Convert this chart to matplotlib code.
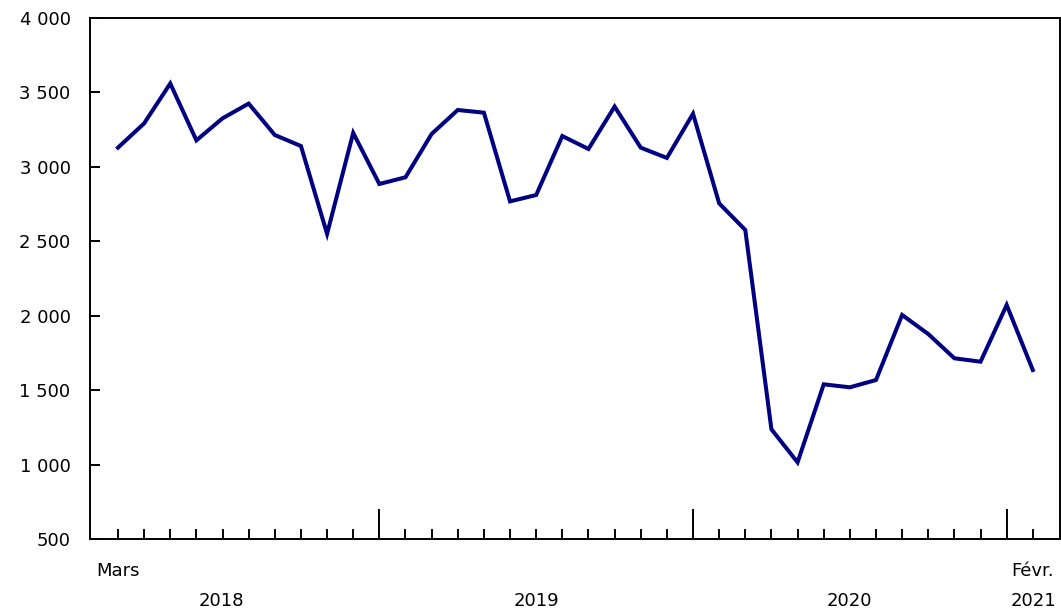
import numpy as np
import matplotlib
matplotlib.use("Agg")
import matplotlib.pyplot as plt
from matplotlib.ticker import FuncFormatter

# monthly values, Mars 2018 .. Févr. 2021
values = [3129, 3292, 3560, 3178, 3326, 3425, 3214, 3140, 2550, 3228,
          2885, 2930, 3221, 3382, 3364, 2768, 2811, 3207, 3120, 3405,
          3129, 3060, 3357, 2755, 2576, 1237, 1015, 1539, 1519, 1568,
          2005, 1877, 1714, 1691, 2072, 1635]
month_labels = {0: "Mars", 35: "Févr."}
year_labels = {"2018": 3.94, "2019": 16.0, "2020": 28.0, "2021": 35.04}
year_starts = [10, 22, 34]

plt.rcParams['font.family'] = ['DejaVu Sans']
plt.rcParams['font.size'] = 13

fig = plt.figure(figsize=(10.61, 6.10), dpi=100)
ax = fig.add_axes([90 / 1061, 1 - 539 / 610, 970 / 1061, 521 / 610])

x = np.arange(len(values))
ax.plot(x, values, color='#000080', lw=2.9, solid_joinstyle='miter')

ax.set_xlim(-1.07, 36.04)
ax.set_ylim(500, 4000)
ax.set_yticks(np.arange(500, 4001, 500))
ax.yaxis.set_major_formatter(FuncFormatter(lambda v, p: f"{int(v):,}".replace(",", " ")))
ax.tick_params(axis='y', direction='in', length=7, width=1.4, pad=14, labelsize=13)

ax.set_xticks(year_starts)
ax.set_xticks([i for i in x if i not in year_starts], minor=True)
ax.set_xticklabels([])
ax.tick_params(axis='x', which='major', direction='in', length=21.5, width=1.4)
ax.tick_params(axis='x', which='minor', direction='in', length=7, width=1.4)

for s in ax.spines.values():
    s.set_linewidth(1.4)

for i, lab in month_labels.items():
    ax.annotate(lab, xy=(i, 0), xycoords=('data', 'axes fraction'),
                xytext=(0, -23), textcoords='offset points',
                ha='center', va='center', fontsize=13)
for lab, pos in year_labels.items():
    ax.annotate(lab, xy=(pos, 0), xycoords=('data', 'axes fraction'),
                xytext=(0, -44.6), textcoords='offset points',
                ha='center', va='center', fontsize=13)

fig.savefig("out.png", dpi=100)
